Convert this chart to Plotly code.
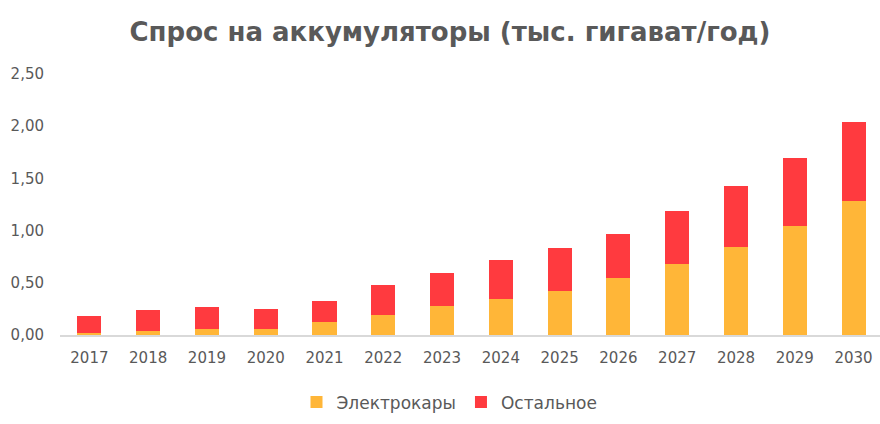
import plotly.graph_objects as go

years = ["2017", "2018", "2019", "2020", "2021", "2022", "2023", "2024",
         "2025", "2026", "2027", "2028", "2029", "2030"]
ev = [0.02, 0.04, 0.06, 0.06, 0.125, 0.19, 0.28, 0.345, 0.42, 0.545, 0.68, 0.84, 1.04, 1.28]
other = [0.16, 0.20, 0.21, 0.19, 0.20, 0.29, 0.31, 0.375, 0.41, 0.42, 0.505, 0.585, 0.66, 0.756]
y_ticks = [0, 0.5, 1.0, 1.5, 2.0, 2.5]
y_labels = ["0,00", "0,50", "1,00", "1,50", "2,00", "2,50"]

title = "Спрос на аккумуляторы (тыс. гигават/год)"
font = "DejaVu Sans"
txt = "#595959"

fig = go.Figure()
fig.add_trace(go.Bar(x=years, y=ev, name="Электрокары", marker_color="#FFB638",
                     marker_line_width=0))
fig.add_trace(go.Bar(x=years, y=other, name="Остальное", marker_color="#FF3A3F",
                     marker_line_width=0))

fig.update_layout(
    width=880, height=424,
    barmode="stack", bargap=0.59,
    paper_bgcolor="white", plot_bgcolor="white",
    margin=dict(l=60, r=0, t=73.5, b=88.5),
    font=dict(family=font, color=txt, size=15),
    title=dict(text=title, x=450/880, xanchor="center", y=1-32/424, yanchor="middle",
               font=dict(family=font, size=26, color=txt, weight="bold")),
    showlegend=True,
    legend=dict(orientation="h", x=0.475, xanchor="center", y=-0.258, yanchor="middle",
                font=dict(size=17, color=txt), itemwidth=30,
                traceorder="normal"),
    xaxis=dict(type="category", range=[-0.5, 13.45], showgrid=False, showline=True,
               linecolor="#D9D9D9", linewidth=2, ticks="", ticklabelstandoff=8,
               tickfont=dict(size=15, color=txt)),
    yaxis=dict(range=[0, 2.5], tickvals=y_ticks, ticktext=y_labels, showgrid=False,
               zeroline=False, showline=False, ticks="", ticklabelstandoff=15,
               tickfont=dict(size=15, color=txt)),
)

fig.write_html("out.html", config={"displayModeBar": False},
               post_script="document.body.style.margin='0px';")
